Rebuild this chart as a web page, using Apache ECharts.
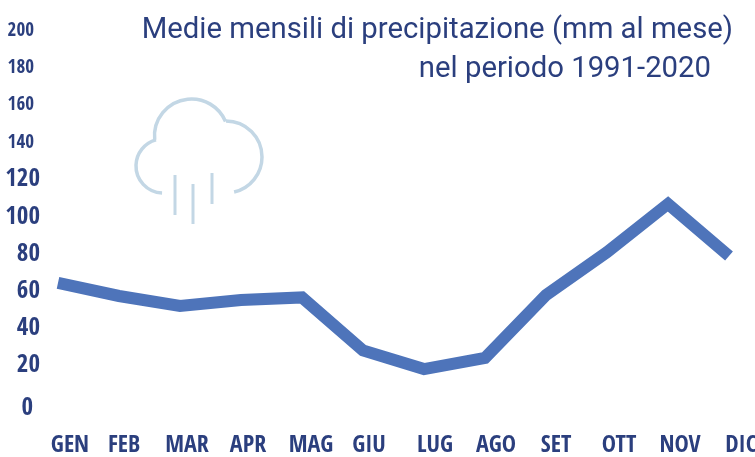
<!DOCTYPE html>
<html>
<head>
<meta charset="utf-8">
<style>html,body{margin:0;padding:0;background:#fff}#chart{width:755px;height:457px}</style>
<script src="https://cdn.jsdelivr.net/npm/echarts@6/dist/echarts.min.js"></script>
</head>
<body>
<div id="chart"></div>
<script>
var mesi = ['GEN','FEB','MAR','APR','MAG','GIU','LUG','AGO','SET','OTT','NOV','DIC'];
var precipitazione = [64,57,51.6,54.8,56.2,27.7,17.7,23.7,57.5,80.6,106.5,78.5];
var titolo1 = 'Medie mensili di precipitazione (mm al mese)';
var titolo2 = 'nel periodo 1991-2020';

var blu = '#2b3f7e';
var azzurro = '#c3d7e5';
var labelFont = '"Open Sans Condensed", "Roboto Condensed", sans-serif';

function rad(d) {
    return d * Math.PI / 180;
}

// le etichette dei mesi non stanno sotto i punti, ognuna ha il suo scarto
var scarto = [24,10,14,14,18,12,22,22,20,24,24,24];
var mesiData = mesi.map(function (m, i) {
    return {value: m, textStyle: {padding: [0, 0, 0, scarto[i]]}};
});

var myChart = echarts.init(document.getElementById('chart'));
myChart.setOption({
    animation: false,
    title: [
        {text: titolo1, right: 17, top: 11, textStyle: {color: blu, fontFamily: 'Roboto', fontSize: 29.3, fontWeight: 400}},
        {text: titolo2, right: 39, top: 50, textStyle: {color: blu, fontFamily: 'Roboto', fontSize: 29.3, fontWeight: 400}}
    ],
    grid: {left: 58, right: 26, top: 30, bottom: 55, outerBoundsMode: 'none'},
    xAxis: {
        type: 'category',
        boundaryGap: false,
        data: mesiData,
        axisLine: {show: false},
        axisTick: {show: false},
        axisLabel: {
            interval: 0,
            margin: 32,
            color: blu,
            fontFamily: labelFont,
            fontWeight: 'bold',
            fontSize: 24,
            hideOverlap: false
        }
    },
    yAxis: {
        type: 'value',
        min: 0,
        max: 200,
        interval: 20,
        splitLine: {show: false},
        axisLine: {show: false},
        axisTick: {show: false},
        axisLabel: {
            margin: 18,
            color: blu,
            fontFamily: labelFont,
            fontWeight: 'bold',
            formatter: function (v) {
                return v > 120 ? '{s|' + v + '}' : (v === 0 ? '{z|0}' : '{b|' + v + '}');
            },
            rich: {
                s: {fontSize: 19, fontFamily: labelFont, fontWeight: 'bold', color: blu, padding: [2, 6, 0, 0]},
                b: {fontSize: 25, fontFamily: labelFont, fontWeight: 'bold', color: blu, padding: [2, 0, 0, 0]},
                z: {fontSize: 25, fontFamily: labelFont, fontWeight: 'bold', color: blu, padding: [12, 7, 0, 0]}
            }
        }
    },
    series: [{
        type: 'line',
        data: precipitazione,
        symbol: 'none',
        smooth: false,
        lineStyle: {color: '#4e74ba', width: 12, join: 'miter', cap: 'butt'}
    }],
    graphic: [
        {type: 'arc', shape: {cx: 163, cy: 166, r: 27, startAngle: rad(92), endAngle: rad(255)}, style: {fill: null, stroke: azzurro, lineWidth: 3.5}},
        {type: 'arc', shape: {cx: 191.5, cy: 136, r: 37, startAngle: rad(174), endAngle: rad(337)}, style: {fill: null, stroke: azzurro, lineWidth: 3.5}},
        {type: 'arc', shape: {cx: 226, cy: 157, r: 36, startAngle: rad(-90), endAngle: rad(77)}, style: {fill: null, stroke: azzurro, lineWidth: 3.5}},
        {type: 'line', shape: {x1: 175, y1: 175, x2: 175, y2: 215}, style: {stroke: azzurro, lineWidth: 3}},
        {type: 'line', shape: {x1: 193, y1: 184, x2: 193, y2: 224}, style: {stroke: azzurro, lineWidth: 3}},
        {type: 'line', shape: {x1: 212, y1: 173, x2: 212, y2: 204}, style: {stroke: azzurro, lineWidth: 3}}
    ]
});
window.onresize = function () {
    myChart.resize();
}
</script>
</body>
</html>
